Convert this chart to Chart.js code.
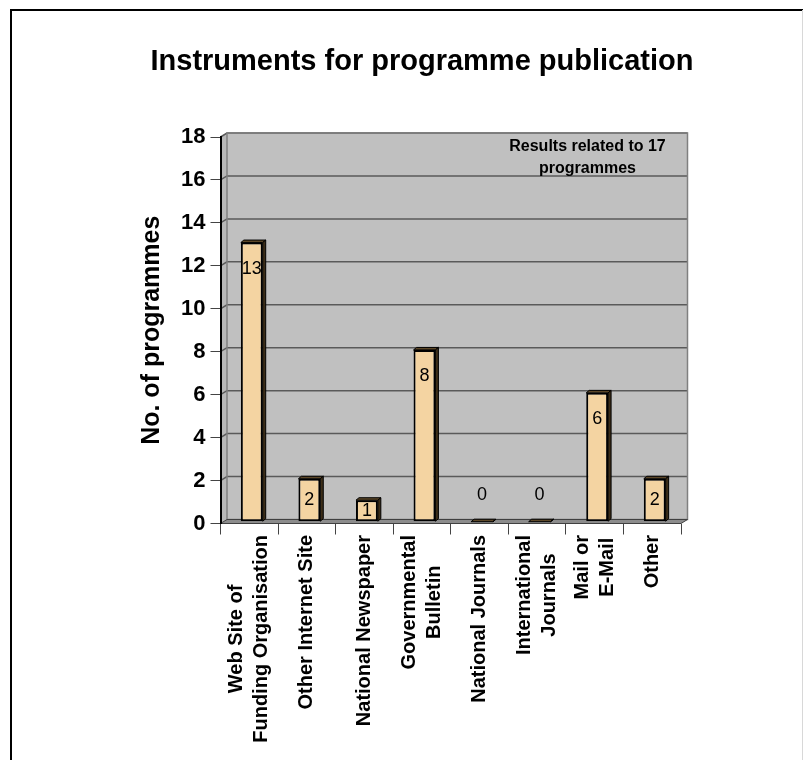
<!DOCTYPE html>
<html>
<head>
<meta charset="utf-8">
<script src="https://cdn.jsdelivr.net/npm/chart.js@4.4.1/dist/chart.umd.min.js"></script>
<style>
  html, body { margin: 0; padding: 0; background: #fff; }
</style>
</head>
<body>
<canvas id="chartPub" width="803" height="760"></canvas>
<script>
// data
const categories = [
  ['Web Site of', 'Funding Organisation'],
  ['Other Internet Site'],
  ['National Newspaper'],
  ['Governmental', 'Bulletin'],
  ['National Journals'],
  ['International', 'Journals'],
  ['Mail or', 'E-Mail'],
  ['Other']
];
const programmes = [13, 2, 1, 8, 0, 0, 6, 2];
const yTicks = [0, 2, 4, 6, 8, 10, 12, 14, 16, 18];
const chartTitle = 'Instruments for programme publication';
const yTitle = 'No. of programmes';
const note = ['Results related to 17', 'programmes'];

const FONT = "'Liberation Sans', Arial, sans-serif";
// fake 3d: depth of the walls and of the bars
const WALL = { x: 6.5, y: -4 };
const BAR_SHIFT = { x: 2.5, y: -1.8 };
const BAR_DEPTH = { x: 3, y: -2.5 };

const walls = {
  id: 'walls',
  beforeDraw(chart) {
    const { ctx, chartArea: a, scales: { y } } = chart;
    const dx = WALL.x, dy = WALL.y;
    ctx.save();
    // back wall
    ctx.fillStyle = '#c0c0c0';
    ctx.fillRect(a.left + dx, a.top + dy, a.right - a.left, a.bottom - a.top);
    // side wall
    ctx.beginPath();
    ctx.moveTo(a.left, a.top);
    ctx.lineTo(a.left + dx, a.top + dy);
    ctx.lineTo(a.left + dx, a.bottom + dy);
    ctx.lineTo(a.left, a.bottom);
    ctx.closePath();
    ctx.fillStyle = '#b8b8b8';
    ctx.fill();
    // gridlines, on side wall and back wall
    ctx.strokeStyle = '#5a5a5a';
    ctx.lineWidth = 1.5;
    y.ticks.forEach(t => {
      if (t.value === 0) return;
      const py = y.getPixelForValue(t.value);
      ctx.beginPath();
      ctx.moveTo(a.left, py);
      ctx.lineTo(a.left + dx, py + dy);
      ctx.lineTo(a.right + dx, py + dy);
      ctx.stroke();
    });
    ctx.strokeStyle = '#808080';
    ctx.lineWidth = 1.5;
    ctx.strokeRect(a.left + dx, a.top + dy, a.right - a.left, a.bottom - a.top);
    // floor
    ctx.beginPath();
    ctx.moveTo(a.left, a.bottom);
    ctx.lineTo(a.right, a.bottom);
    ctx.lineTo(a.right + dx, a.bottom + dy);
    ctx.lineTo(a.left + dx, a.bottom + dy);
    ctx.closePath();
    ctx.fillStyle = '#8c8c8c';
    ctx.fill();
    ctx.strokeStyle = '#404040';
    ctx.lineWidth = 1;
    ctx.stroke();
    ctx.restore();
  }
};

const bars3d = {
  id: 'bars3d',
  beforeDatasetsDraw(chart) {
    chart.ctx.save();
    chart.ctx.translate(BAR_SHIFT.x, BAR_SHIFT.y);
  },
  afterDatasetsDraw(chart) {
    const ctx = chart.ctx;
    const bx = BAR_DEPTH.x, by = BAR_DEPTH.y;
    chart.getDatasetMeta(0).data.forEach((bar, i) => {
      const { x, y, base, width } = bar.getProps(['x', 'y', 'base', 'width'], true);
      const l = x - width / 2, r = x + width / 2;
      ctx.lineWidth = 1;
      ctx.strokeStyle = '#000';
      // top
      ctx.beginPath();
      ctx.moveTo(l, y);
      ctx.lineTo(l + bx, y + by);
      ctx.lineTo(r + bx, y + by);
      ctx.lineTo(r, y);
      ctx.closePath();
      ctx.fillStyle = '#5c4728';
      ctx.fill();
      ctx.stroke();
      // side
      ctx.beginPath();
      ctx.moveTo(r, y);
      ctx.lineTo(r + bx, y + by);
      ctx.lineTo(r + bx, base + by);
      ctx.lineTo(r, base);
      ctx.closePath();
      ctx.fillStyle = '#3d2e18';
      ctx.fill();
      ctx.stroke();
      // value label
      const v = programmes[i];
      const ly = v > 0 ? Math.min(y + 26, (y + base) / 2) : base - 27;
      ctx.font = `18px ${FONT}`;
      ctx.fillStyle = '#000';
      ctx.textAlign = 'center';
      ctx.textBaseline = 'middle';
      ctx.fillText(String(v), x, ly);
    });
    ctx.restore();
  }
};

const texts = {
  id: 'texts',
  afterDraw(chart) {
    const { ctx, chartArea: a, scales: { x } } = chart;
    ctx.save();
    ctx.fillStyle = '#000';
    ctx.textAlign = 'center';
    ctx.textBaseline = 'middle';
    ctx.font = `bold 29px ${FONT}`;
    ctx.fillText(chartTitle, 422, 62);

    ctx.font = `bold 16px ${FONT}`;
    note.forEach((t, k) => ctx.fillText(t, a.right + WALL.x - 100, a.top + WALL.y + 14 + k * 22));

    // category labels, rotated, lines centred on each other
    ctx.font = `bold 20px ${FONT}`;
    categories.forEach((lines, i) => {
      const px = x.getPixelForValue(i);
      const w = Math.max(...lines.map(s => ctx.measureText(s).width));
      ctx.save();
      ctx.translate(px, a.bottom + 11.5);
      ctx.rotate(-Math.PI / 2);
      lines.forEach((s, k) => ctx.fillText(s, -w / 2, (k - (lines.length - 1) / 2) * 25));
      ctx.restore();
    });

    // frame
    ctx.strokeStyle = '#000';
    ctx.lineWidth = 2;
    ctx.beginPath();
    ctx.moveTo(11, 760);
    ctx.lineTo(11, 10);
    ctx.lineTo(803, 10);
    ctx.stroke();
    ctx.strokeStyle = '#d8d8d8';
    ctx.lineWidth = 1;
    ctx.beginPath();
    ctx.moveTo(802.5, 10);
    ctx.lineTo(802.5, 760);
    ctx.stroke();
    ctx.restore();
  }
};

new Chart('chartPub', {
  type: 'bar',
  data: {
    labels: categories,
    datasets: [{
      data: programmes,
      backgroundColor: '#f4d4a2',
      borderColor: '#000',
      borderWidth: 2,
      borderSkipped: false,
      barPercentage: 0.38,
      categoryPercentage: 1
    }]
  },
  options: {
    responsive: false,
    animation: false,
    devicePixelRatio: 1,
    layout: { padding: { left: 100, top: 137, right: 122, bottom: 0 } },
    plugins: {
      legend: { display: false },
      tooltip: { enabled: false },
      title: { display: false }
    },
    scales: {
      x: {
        grid: { drawOnChartArea: false, drawTicks: true, tickLength: 11, color: '#444', lineWidth: 1 },
        border: { display: false },
        ticks: { display: false },
        afterFit: s => { s.height = 236.5; }
      },
      y: {
        min: 0,
        max: 18,
        afterBuildTicks: s => { s.ticks = yTicks.map(v => ({ value: v })); },
        grid: { drawOnChartArea: false, drawTicks: true, tickLength: 10, color: '#444' },
        border: { display: true, color: '#000', width: 2 },
        ticks: { font: { family: FONT, size: 22, weight: 'bold' }, color: '#000', padding: 5 },
        title: {
          display: true,
          text: yTitle,
          color: '#000',
          font: { family: FONT, size: 25, weight: 'bold' },
          padding: { top: 37, bottom: 0 }
        },
        afterFit: s => { s.width = 120.5; }
      }
    }
  },
  plugins: [walls, bars3d, texts]
});
</script>
</body>
</html>
